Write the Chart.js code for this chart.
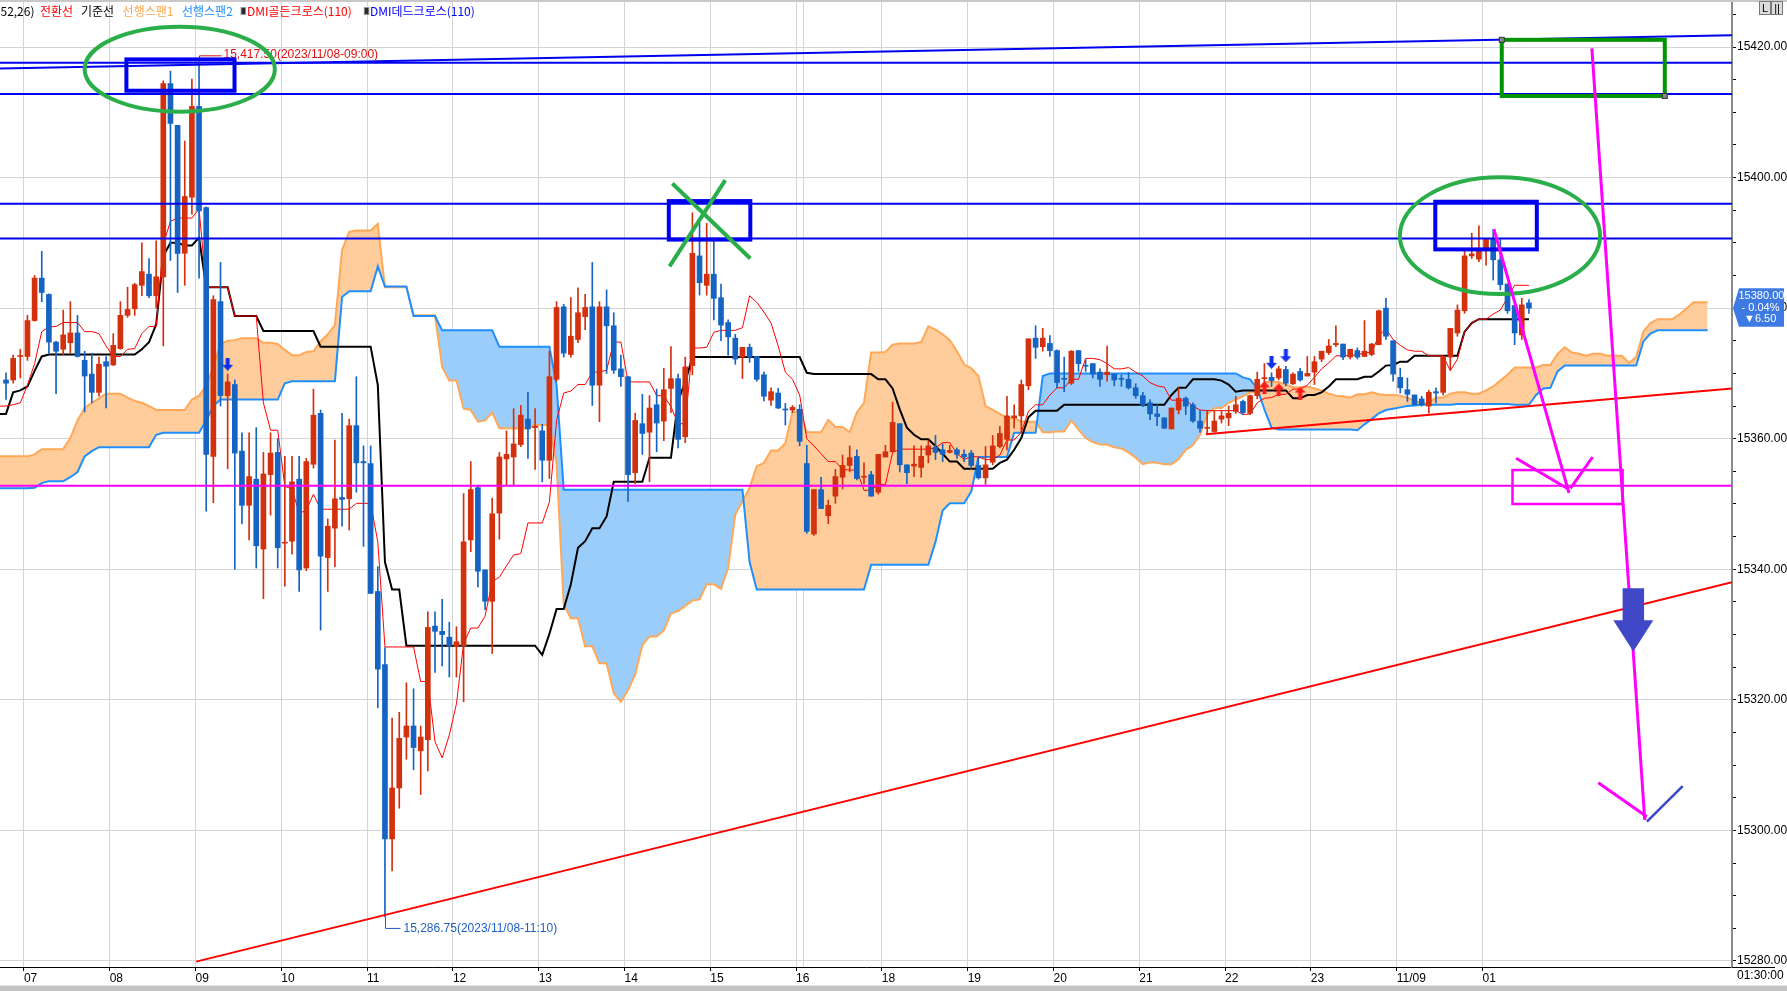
<!DOCTYPE html>
<html>
<head>
<meta charset="utf-8">
<title>5분봉 일목균형표</title>
<script src="https://cdn.jsdelivr.net/npm/chart.js@4.4.1/dist/chart.umd.min.js"></script>
<style>
  html, body { margin: 0; padding: 0; background: #fff; overflow: hidden; }
  #box { width: 1787px; height: 991px; }
</style>
</head>
<body>
<div id="box"><canvas id="chart" width="1787" height="991"></canvas></div>
<script>
// 5분봉, index 0 = 11/08 06:45 ... index 213 = 11/09 01:30
var opens = [
  15369.0,15369.0,15372.6,15372.6,15378.1,15384.6,15382.1,15374.8,15373.7,15374.7,
  15376.2,15372.0,15369.9,15367.1,15371.8,15371.3,15373.8,15378.9,15379.9,15383.5,
  15385.2,15381.9,15384.8,15414.4,15408.0,15388.4,15397.0,15410.9,15395.4,15357.3,
  15381.0,15366.6,15368.3,15358.1,15349.8,15353.8,15343.1,15354.5,15357.9,15344.0,
  15344.3,15353.8,15340.2,15356.1,15363.9,15341.8,15346.3,15351.0,15350.8,15362.0,
  15356.5,15356.2,15336.6,15325.4,15298.7,15306.5,15314.3,15316.0,15312.2,15313.9,
  15331.3,15330.5,15329.6,15328.2,15328.3,15344.5,15352.5,15339.9,15335.1,15348.6,
  15356.9,15357.2,15359.1,15363.0,15361.7,15361.2,15356.7,15369.1,15380.2,15372.9,
  15375.2,15378.7,15380.2,15368.2,15380.2,15377.3,15370.7,15369.5,15354.8,15362.3,
  15361.0,15365.2,15362.7,15367.7,15369.2,15360.3,15371.2,15388.0,15383.5,15385.2,
  15381.6,15377.8,15375.4,15372.5,15374.0,15372.6,15369.8,15365.9,15367.0,15364.5,
  15364.4,15364.5,15356.2,15345.4,15352.2,15348.2,15351.2,15354.1,15355.9,15357.3,
  15354.1,15354.5,15351.8,15357.2,15358.0,15362.3,15356.0,15355.8,15355.6,15357.5,
  15358.7,15358.3,15357.9,15358.3,15357.6,15357.8,15355.9,15354.0,15356.4,15358.8,
  15359.9,15363.2,15363.5,15368.1,15375.4,15374.1,15374.6,15373.5,15369.2,15368.5,
  15373.5,15371.2,15371.5,15370.2,15369.8,15369.9,15369.2,15369.1,15367.8,15366.6,
  15365.5,15363.8,15363.2,15361.5,15364.4,15366.2,15365.2,15362.7,15361.6,15361.1,
  15363.0,15363.2,15364.2,15365.7,15363.9,15366.6,15369.2,15369.4,15369.3,15370.6,
  15368.4,15370.3,15369.6,15370.2,15372.2,15373.2,15374.4,15374.5,15372.5,15373.5,
  15372.6,15372.9,15374.4,15380.0,15375.0,15369.4,15367.5,15366.7,15366.1,15365.0,
  15367.2,15367.1,15372.5,15376.2,15379.6,15388.0,15387.5,15388.9,15390.6,15387.4,
  15383.7,15380.4,15375.9,15380.8
];
var highs = [
  15370.1,15372.8,15373.7,15378.9,15385.0,15388.7,15382.2,15374.9,15379.7,15381.0,
  15378.9,15373.4,15373.1,15372.5,15372.6,15376.1,15381.0,15383.2,15383.8,15390.0,
  15387.6,15390.3,15414.8,15416.3,15408.0,15405.6,15415.1,15417.5,15395.5,15381.9,
  15387.0,15369.9,15369.0,15360.9,15360.9,15361.7,15357.9,15360.9,15360.0,15357.3,
  15357.3,15357.3,15357.0,15367.6,15364.4,15347.7,15359.8,15363.9,15363.0,15369.5,
  15358.9,15358.9,15340.4,15328.0,15317.2,15318.1,15322.6,15321.7,15316.0,15333.5,
  15333.5,15335.4,15331.9,15331.2,15351.6,15356.5,15352.9,15339.9,15350.9,15357.9,
  15361.2,15364.6,15365.1,15367.1,15364.6,15362.2,15373.4,15381.0,15380.6,15381.6,
  15383.1,15382.1,15387.0,15381.0,15382.8,15379.3,15372.8,15369.5,15363.9,15366.8,
  15366.6,15367.6,15370.8,15374.1,15369.9,15372.5,15394.6,15393.0,15393.0,15390.2,
  15383.7,15378.2,15376.0,15374.0,15374.5,15372.6,15370.2,15367.8,15367.7,15365.4,
  15365.1,15365.2,15359.0,15352.2,15354.1,15350.6,15355.3,15357.5,15358.9,15358.3,
  15356.3,15355.0,15357.6,15359.0,15365.6,15362.3,15356.0,15358.9,15358.9,15359.7,
  15360.5,15359.2,15359.0,15358.6,15358.3,15358.2,15357.0,15358.8,15360.5,15361.9,
  15366.5,15365.2,15369.0,15375.3,15377.3,15376.9,15375.8,15373.6,15372.5,15373.5,
  15373.5,15372.1,15371.5,15370.7,15374.2,15369.9,15369.8,15370.1,15368.4,15367.1,
  15366.0,15365.2,15363.2,15364.7,15367.8,15366.4,15365.5,15364.3,15364.3,15364.3,
  15364.3,15365.0,15366.5,15365.9,15366.7,15370.2,15371.5,15370.1,15371.1,15371.1,
  15370.1,15370.8,15372.6,15372.6,15373.4,15375.2,15377.3,15374.5,15373.7,15373.9,
  15378.1,15374.6,15379.7,15381.5,15375.0,15370.8,15369.3,15366.7,15366.5,15367.4,
  15367.8,15372.6,15376.9,15380.5,15388.9,15391.5,15392.6,15390.6,15392.0,15390.5,
  15383.7,15380.4,15381.5,15381.3
];
var lows = [
  15366.0,15368.5,15369.3,15372.0,15378.0,15381.0,15373.1,15366.9,15372.9,15373.1,
  15372.5,15364.1,15365.5,15366.5,15364.7,15371.2,15373.7,15378.6,15378.9,15381.9,
  15381.6,15380.0,15374.2,15387.3,15382.4,15383.5,15394.4,15384.6,15348.9,15350.2,
  15365.0,15355.4,15340.0,15347.0,15344.5,15340.2,15335.5,15348.3,15340.2,15337.4,
  15342.3,15336.6,15339.8,15355.5,15330.7,15336.6,15340.4,15346.6,15346.0,15351.8,
  15343.5,15336.3,15318.8,15286.75,15293.8,15303.4,15310.9,15309.3,15305.5,15309.1,
  15324.2,15325.2,15323.5,15323.5,15319.7,15342.7,15337.3,15333.8,15327.1,15344.6,
  15352.9,15352.9,15358.8,15357.0,15355.3,15353.4,15353.9,15368.8,15372.5,15372.5,
  15374.7,15376.7,15365.1,15362.6,15370.0,15370.0,15368.0,15350.4,15353.1,15357.6,
  15353.4,15358.0,15359.7,15364.0,15358.6,15359.4,15369.8,15382.0,15382.0,15378.2,
  15375.0,15372.8,15371.4,15369.2,15371.7,15368.8,15365.8,15365.1,15364.6,15362.1,
  15364.0,15358.9,15345.5,15345.2,15349.3,15347.0,15350.1,15352.3,15354.9,15353.7,
  15353.1,15351.2,15351.5,15357.2,15358.0,15354.9,15353.1,15354.2,15354.1,15356.3,
  15356.8,15356.5,15357.8,15357.0,15356.5,15355.4,15353.8,15353.0,15356.0,15358.6,
  15358.3,15361.6,15360.9,15367.5,15372.3,15373.4,15372.6,15367.8,15367.2,15368.3,
  15370.3,15370.3,15369.3,15368.0,15368.8,15368.1,15368.0,15367.6,15366.2,15364.9,
  15362.9,15362.0,15361.6,15361.5,15363.8,15363.7,15362.5,15361.0,15360.8,15361.0,
  15362.4,15362.0,15363.9,15363.7,15363.7,15366.1,15368.0,15368.0,15369.0,15368.1,
  15368.3,15368.8,15369.6,15368.3,15371.8,15372.9,15374.1,15372.1,15372.2,15372.2,
  15372.6,15372.7,15374.4,15375.2,15368.8,15367.0,15365.7,15365.2,15365.0,15363.9,
  15365.5,15366.7,15370.6,15375.7,15379.2,15387.6,15387.1,15386.6,15384.3,15382.8,
  15379.2,15374.4,15375.2,15379.2
];
var closes = [
  15368.5,15372.3,15372.7,15378.1,15384.6,15382.4,15374.8,15373.4,15375.9,15376.2,
  15372.6,15369.6,15367.1,15371.4,15371.1,15374.3,15378.9,15379.8,15383.6,15385.6,
  15381.9,15384.8,15414.4,15408.3,15388.4,15397.1,15410.9,15394.9,15357.6,15381.3,
  15366.6,15368.7,15357.8,15349.8,15354.2,15343.6,15354.6,15357.8,15343.3,15344.1,
  15353.4,15339.9,15356.5,15363.6,15342.0,15346.6,15350.8,15350.7,15362.0,15356.3,
  15356.3,15336.3,15324.7,15298.7,15306.5,15314.1,15316.0,15312.7,15314.3,15331.1,
  15330.5,15330.0,15328.3,15328.9,15344.2,15352.2,15339.7,15335.1,15348.5,15357.2,
  15357.6,15359.2,15363.6,15361.5,15361.9,15356.7,15369.5,15380.1,15373.1,15375.7,
  15379.3,15380.1,15368.2,15380.2,15377.3,15370.5,15369.5,15354.5,15362.8,15360.8,
  15364.7,15362.4,15367.5,15369.2,15359.9,15371.0,15388.4,15383.9,15385.2,15381.5,
  15377.4,15375.6,15372.2,15374.0,15372.5,15369.1,15366.5,15367.2,15364.7,15364.4,
  15364.8,15359.6,15345.8,15352.2,15349.3,15349.8,15354.2,15355.9,15357.1,15353.9,
  15354.2,15351.2,15357.6,15358.0,15362.5,15356.0,15354.8,15356.1,15357.3,15358.9,
  15357.9,15357.6,15358.2,15357.6,15357.2,15355.9,15354.0,15356.0,15358.9,15360.8,
  15363.5,15363.5,15368.3,15375.3,15374.0,15375.4,15373.5,15368.6,15369.1,15373.4,
  15371.5,15371.1,15369.9,15369.1,15370.2,15369.0,15369.1,15367.8,15366.6,15365.2,
  15363.8,15363.4,15361.6,15364.7,15366.2,15365.0,15362.7,15361.6,15361.7,15362.7,
  15363.5,15363.9,15365.2,15364.0,15366.6,15369.1,15369.3,15368.9,15370.7,15368.5,
  15369.9,15369.0,15370.0,15371.8,15373.4,15374.2,15374.6,15372.5,15373.7,15372.5,
  15373.4,15374.5,15379.6,15375.7,15369.9,15367.8,15366.8,15365.2,15365.2,15367.1,
  15367.0,15372.6,15376.9,15379.7,15388.0,15388.3,15388.9,15390.6,15387.4,15383.6,
  15379.6,15376.2,15380.5,15380.0
];

// 일목균형표 선 (index -1 부터)
var lineStart = -1;
var tenkan = [
  15365.0,15365.0,15365.2,15365.5,15368.2,15371.5,15376.4,15377.1,15377.2,15377.8,
  15377.8,15377.8,15376.4,15376.4,15376.1,15374.2,15372.6,15372.6,15373.7,15373.8,
  15376.1,15377.2,15377.2,15389.8,15393.3,15393.8,15393.8,15393.8,15395.2,15383.2,
  15383.2,15383.2,15383.2,15378.8,15378.8,15378.8,15378.8,15365.5,15361.3,15361.3,
  15352.7,15352.3,15348.6,15349.0,15351.5,15349.2,15349.2,15349.2,15349.2,15349.2,
  15350.1,15350.1,15350.1,15344.2,15328.1,15328.1,15328.1,15328.1,15328.1,15322.8,
  15322.8,15313.6,15311.1,15314.6,15319.4,15328.6,15331.0,15331.0,15332.8,15338.1,
  15338.8,15340.5,15342.2,15342.4,15347.1,15347.1,15347.1,15350.3,15362.8,15367.0,
  15367.3,15368.3,15368.3,15370.2,15370.2,15370.5,15374.8,15374.8,15368.7,15368.7,
  15368.7,15368.7,15366.6,15366.6,15364.9,15362.3,15362.3,15373.9,15373.9,15374.0,
  15376.3,15376.6,15376.6,15376.6,15377.0,15381.9,15380.9,15379.4,15377.7,15374.2,
  15370.2,15369.1,15366.7,15360.0,15358.9,15357.7,15356.5,15356.5,15355.3,15355.2,
  15355.2,15352.1,15352.1,15353.0,15353.0,15357.9,15358.4,15358.4,15358.4,15358.4,
  15358.4,15358.6,15359.4,15359.4,15357.7,15356.8,15357.3,15357.2,15356.8,15356.8,
  15357.5,15359.8,15359.8,15361.0,15364.2,15365.2,15365.2,15366.7,15367.8,15367.8,
  15369.1,15369.1,15372.3,15372.3,15372.1,15371.5,15370.7,15370.7,15370.9,15370.2,
  15369.6,15368.6,15368.1,15367.9,15365.9,15365.9,15365.9,15365.0,15364.4,15364.3,
  15364.3,15364.3,15364.3,15364.3,15363.7,15363.8,15365.5,15366.2,15366.3,15366.8,
  15366.8,15367.6,15367.6,15368.2,15369.4,15370.7,15371.6,15372.7,15372.7,15372.8,
  15372.8,15373.2,15373.2,15375.8,15376.8,15375.2,15374.3,15373.6,15373.4,15373.4,
  15372.7,15372.7,15372.7,15370.4,15372.2,15376.4,15377.7,15378.3,15378.3,15379.1,
  15379.7,15381.6,15383.5,15383.5,15383.5
];
var kijun = [
  15363.8,15363.8,15367.1,15367.4,15368.0,15370.4,15372.6,15372.9,15372.9,15372.9,
  15372.9,15372.9,15372.9,15372.9,15372.9,15372.9,15372.9,15372.9,15372.9,15372.9,
  15373.7,15374.8,15377.5,15388.0,15390.0,15390.0,15389.6,15389.6,15390.8,15383.2,
  15383.2,15383.2,15383.2,15378.8,15378.8,15378.8,15378.8,15376.5,15376.5,15376.5,
  15376.5,15376.5,15376.5,15376.5,15376.5,15374.1,15374.1,15374.1,15374.1,15374.1,
  15374.1,15374.1,15374.1,15368.2,15341.1,15336.9,15336.9,15328.3,15328.3,15328.3,
  15328.3,15328.3,15328.3,15328.3,15328.3,15328.3,15328.3,15328.3,15328.3,15328.3,
  15328.3,15328.3,15328.3,15328.3,15328.3,15328.3,15326.9,15330.1,15333.9,15333.9,
  15337.7,15343.3,15344.3,15346.3,15346.3,15348.1,15353.4,15353.4,15353.4,15353.4,
  15353.4,15357.1,15357.1,15357.1,15357.1,15365.8,15368.7,15372.5,15372.5,15372.5,
  15372.5,15372.5,15372.5,15372.5,15372.5,15372.5,15372.5,15372.5,15372.5,15372.5,
  15372.5,15372.5,15372.5,15370.1,15369.9,15369.9,15369.9,15369.9,15369.9,15369.9,
  15369.9,15369.9,15369.9,15369.1,15369.1,15367.7,15364.5,15361.7,15360.6,15359.9,
  15359.9,15358.9,15357.7,15356.5,15356.5,15355.4,15355.4,15355.4,15355.4,15355.4,
  15356.3,15356.8,15358.3,15360.1,15363.3,15364.3,15364.3,15364.3,15364.3,15365.2,
  15365.2,15365.2,15365.2,15365.2,15365.2,15365.2,15365.2,15365.2,15365.2,15365.2,
  15365.2,15365.2,15365.2,15365.2,15366.7,15367.8,15367.8,15369.1,15369.1,15369.1,
  15369.1,15368.9,15368.3,15367.2,15367.4,15367.4,15367.4,15367.4,15367.4,15367.4,
  15367.4,15366.2,15366.2,15366.7,15366.7,15367.1,15368.0,15369.1,15369.1,15369.1,
  15369.1,15369.5,15369.5,15370.3,15371.2,15371.3,15371.8,15371.8,15372.7,15372.7,
  15372.7,15372.7,15372.7,15372.7,15372.7,15376.4,15377.7,15378.3,15378.3,15378.3,
  15378.3,15378.3,15378.3,15378.3,15378.3
];
// 선행스팬 (index -1 ~ 238, 26봉 선행)
var span1 = [
  15357.3,15357.3,15357.3,15357.3,15357.3,15357.6,15358.4,15358.4,15358.4,15358.4,
  15360.1,15362.8,15364.7,15365.5,15366.2,15366.9,15366.9,15366.9,15366.3,15365.8,
  15365.5,15365.0,15364.4,15364.4,15364.4,15364.4,15364.4,15366.0,15366.6,15368.1,
  15371.0,15374.5,15375.0,15375.1,15375.4,15375.4,15375.4,15374.7,15374.7,15374.5,
  15373.6,15372.8,15372.8,15373.3,15373.4,15374.9,15376.0,15377.4,15388.9,15391.7,
  15391.9,15391.9,15391.9,15392.9,15383.2,15383.2,15383.2,15383.2,15378.9,15378.9,
  15378.9,15378.9,15371.0,15368.9,15368.9,15364.6,15364.4,15362.6,15362.8,15364.0,
  15361.6,15361.6,15361.6,15361.6,15361.6,15362.1,15362.1,15362.1,15356.2,15334.6,
  15332.5,15332.5,15328.2,15328.2,15325.6,15325.6,15321.0,15319.7,15321.5,15323.9,
  15328.4,15329.7,15329.7,15330.6,15333.2,15333.6,15334.4,15335.2,15335.4,15337.7,
  15337.7,15337.0,15340.2,15348.4,15350.4,15352.5,15355.8,15356.3,15358.2,15358.2,
  15359.3,15364.1,15364.1,15361.0,15361.0,15361.0,15362.9,15361.8,15361.8,15361.0,
  15364.0,15365.5,15373.2,15373.2,15373.3,15374.4,15374.6,15374.6,15374.6,15374.8,
  15377.2,15376.7,15376.0,15375.1,15373.4,15371.4,15370.8,15369.6,15365.0,15364.4,
  15363.8,15363.2,15363.2,15362.6,15362.6,15362.6,15361.0,15361.0,15361.1,15361.1,
  15362.8,15361.4,15360.1,15359.5,15359.1,15359.1,15358.7,15358.5,15357.9,15357.1,
  15356.1,15356.4,15356.3,15356.1,15356.1,15356.9,15358.3,15359.0,15360.6,15363.7,
  15364.7,15364.7,15365.5,15366.0,15366.5,15367.1,15367.1,15368.7,15368.7,15368.7,
  15368.3,15367.9,15367.9,15368.0,15367.7,15367.4,15366.9,15366.6,15366.5,15366.3,
  15366.8,15366.8,15367.1,15366.8,15366.7,15366.7,15366.6,15366.3,15365.8,15365.4,
  15365.5,15366.3,15366.3,15366.9,15367.1,15367.1,15366.9,15366.9,15367.4,15368.0,
  15368.9,15369.8,15370.9,15370.9,15370.9,15370.9,15371.3,15371.3,15373.0,15374.0,
  15373.2,15373.0,15372.7,15373.0,15373.0,15372.7,15372.7,15372.7,15371.6,15372.5,
  15376.4,15377.7,15378.3,15378.3,15378.3,15379.0,15379.9,15380.9,15380.9,15380.9
];
var span2 = [
  15352.4,15352.4,15352.4,15352.4,15352.4,15352.5,15353.2,15353.5,15353.5,15353.5,
  15354.1,15354.9,15357.3,15358.1,15358.7,15358.7,15358.7,15358.7,15358.7,15358.7,
  15358.7,15358.7,15360.6,15360.9,15360.9,15360.9,15360.9,15360.9,15360.9,15362.8,
  15365.0,15366.0,15366.0,15366.0,15366.0,15366.0,15366.0,15366.0,15366.0,15366.0,
  15368.5,15368.8,15368.8,15368.8,15368.8,15368.8,15368.8,15368.8,15381.7,15382.6,
  15382.6,15382.6,15382.6,15386.4,15383.3,15383.3,15383.3,15383.3,15378.8,15378.8,
  15378.8,15378.8,15376.6,15376.6,15376.6,15376.6,15376.6,15376.6,15376.6,15376.6,
  15374.1,15374.1,15374.1,15374.1,15374.1,15374.1,15374.1,15374.1,15368.2,15352.2,
  15352.2,15352.2,15352.2,15352.2,15352.2,15352.2,15352.2,15352.2,15352.2,15352.2,
  15352.2,15352.2,15352.2,15352.2,15352.2,15352.2,15352.2,15352.2,15352.2,15352.2,
  15352.2,15352.2,15352.2,15352.2,15352.2,15341.1,15336.9,15336.9,15336.9,15336.9,
  15336.9,15336.9,15336.9,15336.9,15336.9,15336.9,15336.9,15336.9,15336.9,15336.9,
  15336.9,15336.9,15340.7,15340.7,15340.7,15340.7,15340.7,15340.7,15340.7,15340.7,
  15340.7,15344.2,15349.0,15350.1,15350.1,15350.1,15351.9,15357.2,15357.2,15357.2,
  15357.2,15357.2,15360.9,15360.9,15360.9,15360.9,15369.6,15370.0,15370.0,15370.0,
  15370.0,15370.0,15370.0,15370.0,15370.0,15370.0,15370.0,15370.0,15370.0,15370.0,
  15370.0,15370.0,15370.0,15370.0,15370.0,15370.0,15370.0,15370.0,15370.0,15370.0,
  15370.0,15370.0,15370.0,15370.0,15369.4,15369.1,15367.7,15364.5,15361.7,15361.4,
  15361.4,15361.4,15361.4,15361.4,15361.4,15361.4,15361.4,15361.4,15361.4,15361.4,
  15361.3,15362.2,15363.0,15363.9,15364.4,15364.6,15364.8,15365.0,15365.1,15365.2,
  15365.2,15365.2,15365.2,15365.2,15365.3,15365.3,15365.3,15365.3,15365.3,15365.3,
  15365.3,15365.3,15365.2,15365.2,15365.2,15366.7,15367.7,15367.8,15370.3,15371.2,
  15371.2,15371.2,15371.2,15371.2,15371.2,15371.2,15371.2,15371.2,15371.2,15371.2,
  15374.9,15376.1,15376.6,15376.6,15376.6,15376.6,15376.6,15376.6,15376.6,15376.6
];

// x축: 각 시각의 첫 봉 index
var hourTicks = [3, 15, 27, 39, 51, 63, 75, 87, 99, 111, 123, 135, 147, 159, 171, 183, 195, 207];
var hourLabels = ['07', '08', '09', '10', '11', '12', '13', '14', '15', '16', '18', '19', '20', '21', '22', '23', '11/09', '01'];
var sessionLines = [111.5];

// DMI 신호
var goldenIdx = [176, 178, 181];
var goldenVal = [15367.8, 15367.5, 15367.0];
var deadIdx = [31, 177, 179];
var deadVal = [15371.4, 15371.7, 15372.7];

// 그려 넣은 선들 (봉 index, 가격)
var blueLevels = [15417.6, 15412.8, 15396.0, 15390.65];
var blueSlope = [[-0.84, 15416.7], [241.4, 15421.8]];
var magentaLevel = 15352.8;
var redTrends = [[[26.6, 15279.9], [241.4, 15338.0]], [[167.8, 15360.7], [241.4, 15367.7]]];
var blueBoxes = [[16.84, 15418.1, 31.96, 15413.3], [92.7, 15396.4, 104.1, 15390.5], [199.9, 15396.3, 214.1, 15389.0]];
var greenBox = [209.2, 15421.1, 232.0, 15412.5];
var magentaBox = [210.7, 15355.2, 226.1, 15350.0];
var greenEllipses = [[24.3, 15416.6, 13.3, 6.5], [208.95, 15391.1, 14.0, 8.95]];
var greenCross = [[[92.8, 15386.4], [100.6, 15399.6]], [[93.2, 15399.1], [104.1, 15387.6]]];
var magentaPaths = [
  [[208.1, 15392.1], [218.6, 15351.7]],
  [[211.2, 15357.0], [218.5, 15352.3]],
  [[221.9, 15357.2], [218.8, 15352.4]],
  [[221.8, 15419.8], [229.2, 15301.6]],
  [[222.7, 15307.3], [229.5, 15302.1]]
];
var blueTick = [[229.5, 15301.35], [234.5, 15306.8]];
var bigArrow = [[226.1, 15337.1], [229.1, 15337.1], [229.1, 15332.2], [230.4, 15332.2], [227.6, 15327.4], [224.8, 15332.2], [226.1, 15332.2]];

var prevClose = 15386.5;
var baseDate = '2023/11/08';
var highTime = '09:00';
var lowTime = '11:10';

var upColor = '#d3300e';
var downColor = '#1563c2';

Chart.defaults.font.family = '"Liberation Sans", Arial, sans-serif';

function fmt(v) {
  return v.toLocaleString('en-US', { minimumFractionDigits: 2, maximumFractionDigits: 2 });
}

function lineData(arr) {
  return arr.map(function (v, k) { return { x: k + lineStart, y: v }; });
}

function arrowImage(color, down) {
  var c = document.createElement('canvas');
  c.width = 11; c.height = 13;
  var g = c.getContext('2d');
  g.fillStyle = color;
  if (down) { g.translate(0, 13); g.scale(1, -1); }
  g.beginPath();
  g.moveTo(5.5, 0); g.lineTo(11, 6); g.lineTo(7.5, 6); g.lineTo(7.5, 13);
  g.lineTo(3.5, 13); g.lineTo(3.5, 6); g.lineTo(0, 6);
  g.closePath(); g.fill();
  return c;
}

var candleColors = closes.map(function (c, i) { return c >= opens[i] ? upColor : downColor; });
var bodyData = opens.map(function (o, i) { return { x: i, y: [o, closes[i]] }; });
var wickData = highs.map(function (h, i) { return { x: i, y: [lows[i], h] }; });

var gridExtras = {
  id: 'gridExtras',
  beforeDatasetsDraw: function (chart) {
    var ctx = chart.ctx, a = chart.chartArea, xs = chart.scales.x;
    ctx.save();
    ctx.strokeStyle = '#d4d4d4';
    ctx.lineWidth = 1;
    sessionLines.forEach(function (v) {
      var x = Math.round(xs.getPixelForValue(v)) + 0.5;
      ctx.beginPath(); ctx.moveTo(x, a.top); ctx.lineTo(x, a.bottom); ctx.stroke();
    });
    ctx.restore();
  }
};

var drawings = {
  id: 'drawings',
  afterDatasetsDraw: function (chart) {
    var ctx = chart.ctx, a = chart.chartArea;
    var xs = chart.scales.x, ys = chart.scales.y;
    function X(v) { return xs.getPixelForValue(v); }
    function Y(v) { return ys.getPixelForValue(v); }
    function seg(p, q, color, w) {
      ctx.beginPath(); ctx.moveTo(X(p[0]), Y(p[1])); ctx.lineTo(X(q[0]), Y(q[1]));
      ctx.strokeStyle = color; ctx.lineWidth = w; ctx.stroke();
    }
    function level(v, color, w) {
      ctx.beginPath(); ctx.moveTo(a.left, Y(v)); ctx.lineTo(a.right, Y(v));
      ctx.strokeStyle = color; ctx.lineWidth = w; ctx.stroke();
    }
    function box(b, color, w) {
      var x0 = X(b[0]), y0 = Y(b[1]);
      ctx.strokeStyle = color; ctx.lineWidth = w;
      ctx.strokeRect(x0, y0, X(b[2]) - x0, Y(b[3]) - y0);
    }

    ctx.save();
    ctx.beginPath();
    ctx.rect(a.left, a.top, a.right - a.left, a.bottom - a.top);
    ctx.clip();

    redTrends.forEach(function (t) { seg(t[0], t[1], '#ff0000', 2); });
    blueLevels.forEach(function (v) { level(v, '#0000f0', 2); });
    seg(blueSlope[0], blueSlope[1], '#0000f0', 2);
    level(magentaLevel, '#ff00ff', 2);

    // 최고/최저 표시
    var hi = highs.indexOf(Math.max.apply(null, highs));
    var lo = lows.indexOf(Math.min.apply(null, lows));
    ctx.font = '12px "Liberation Sans", Arial, sans-serif';
    ctx.textBaseline = 'middle';
    ctx.textAlign = 'left';
    var hx = Math.round(X(hi)) + 0.5, hy = Y(highs[hi]);
    ctx.strokeStyle = '#e01010'; ctx.lineWidth = 1;
    ctx.beginPath(); ctx.moveTo(hx, hy); ctx.lineTo(hx, hy - 7.5); ctx.lineTo(hx + 22, hy - 7.5); ctx.stroke();
    ctx.fillStyle = '#e01010';
    ctx.fillText(fmt(highs[hi]) + '(' + baseDate + '-' + highTime + ')', hx + 24, hy - 8.5);
    var lx = Math.round(X(lo)) + 0.5, ly = Y(lows[lo]);
    ctx.strokeStyle = '#1f5fc4';
    ctx.beginPath(); ctx.moveTo(lx, ly); ctx.lineTo(lx, ly + 11.5); ctx.lineTo(lx + 15, ly + 11.5); ctx.stroke();
    ctx.fillStyle = '#1f5fc4';
    ctx.fillText(fmt(lows[lo]) + '(' + baseDate + '-' + lowTime + ')', lx + 18, ly + 11.5);

    blueBoxes.forEach(function (b) { box(b, '#0000f0', 4); });
    box(greenBox, '#009400', 4);
    box(magentaBox, '#ff00ff', 2.5);

    ctx.lineWidth = 4;
    ctx.strokeStyle = '#2aae4a';
    greenEllipses.forEach(function (e) {
      var cx = X(e[0]), cy = Y(e[1]);
      ctx.beginPath();
      ctx.ellipse(cx, cy, X(e[0] + e[2]) - cx, cy - Y(e[1] + e[3]), 0, 0, Math.PI * 2);
      ctx.stroke();
    });
    greenCross.forEach(function (l) { seg(l[0], l[1], '#2aae4a', 4); });

    // 초록 박스 핸들
    [[greenBox[0], greenBox[1]], [greenBox[2], greenBox[3]]].forEach(function (p) {
      ctx.fillStyle = '#8a8a8a';
      ctx.fillRect(X(p[0]) - 2.5, Y(p[1]) - 2.5, 5, 5);
      ctx.strokeStyle = '#333'; ctx.lineWidth = 1;
      ctx.strokeRect(X(p[0]) - 2.5, Y(p[1]) - 2.5, 5, 5);
    });

    magentaPaths.forEach(function (l) { seg(l[0], l[1], '#ff00ff', 3); });
    seg(blueTick[0], blueTick[1], '#3c46c8', 2.5);

    ctx.fillStyle = '#4048c8';
    ctx.beginPath();
    bigArrow.forEach(function (p, k) {
      if (k === 0) ctx.moveTo(X(p[0]), Y(p[1])); else ctx.lineTo(X(p[0]), Y(p[1]));
    });
    ctx.closePath();
    ctx.fill();

    ctx.restore();
  }
};

var frame = {
  id: 'frame',
  afterDraw: function (chart) {
    var ctx = chart.ctx, ys = chart.scales.y, a = chart.chartArea;
    ctx.save();

    // 상단 범례
    ctx.font = '12px "Noto Sans CJK KR", sans-serif';
    ctx.textBaseline = 'middle';
    var items = [
      { t: '일목균형표(9,26,52,26)', x: 34.5, c: '#000000', al: 'right' },
      { t: '전환선', x: 40, c: '#ff0000' },
      { t: '기준선', x: 81, c: '#000000' },
      { t: '선행스팬1', x: 122.6, c: '#ffa64d' },
      { t: '선행스팬2', x: 182, c: '#1e8fff' },
      { t: 'DMI골든크로스(110)', x: 247, c: '#ff0000' },
      { t: 'DMI데드크로스(110)', x: 370, c: '#0000ff' }
    ];
    items.forEach(function (it) {
      ctx.textAlign = it.al || 'left';
      ctx.fillStyle = it.c;
      ctx.fillText(it.t, it.x, 11);
    });
    [240.6, 363.8].forEach(function (x) {
      ctx.fillStyle = '#9a9a9a'; ctx.fillRect(x, 7, 5.5, 8);
      ctx.fillStyle = '#2a2a2a'; ctx.fillRect(x + 1, 8, 3.5, 6);
    });

    // 상단/하단 테두리
    ctx.fillStyle = '#c8c8c8';
    ctx.fillRect(0, 0, 1787, 2);
    ctx.fillStyle = '#c4c4c4';
    ctx.fillRect(0, 985, 1787, 6);
    ctx.fillStyle = '#e6e6e6';
    ctx.fillRect(0, 985, 1787, 1);
    ctx.strokeStyle = '#000'; ctx.lineWidth = 1;
    ctx.beginPath(); ctx.moveTo(a.right, a.bottom + 0.5); ctx.lineTo(1775, a.bottom + 0.5); ctx.stroke();

    // 우상단 버튼
    [[1759, 'L'], [1771, '||']].forEach(function (b) {
      ctx.fillStyle = '#dcdcdc'; ctx.fillRect(b[0], 1, 12, 14);
      ctx.strokeStyle = '#7a7a7a'; ctx.strokeRect(b[0] + 0.5, 1.5, 11, 13);
      ctx.fillStyle = '#000'; ctx.font = '11px "Liberation Sans", sans-serif';
      ctx.textAlign = 'center'; ctx.fillText(b[1], b[0] + 6, 8.5);
    });

    // 현재 시각
    ctx.font = '12px "Liberation Sans", sans-serif';
    ctx.textAlign = 'left';
    ctx.fillStyle = '#000';
    ctx.fillText('01:30:00', 1737, 976);

    // 현재가 배지
    var last = closes[closes.length - 1];
    var yb = ys.getPixelForValue(last);
    ctx.fillStyle = '#3d7ae4';
    ctx.beginPath();
    ctx.moveTo(1733, yb); ctx.lineTo(1739, yb - 20); ctx.lineTo(1784, yb - 20);
    ctx.lineTo(1784, yb + 18.5); ctx.lineTo(1739, yb + 18.5); ctx.closePath();
    ctx.fill();
    var chg = last - prevClose;
    ctx.fillStyle = '#ffffff';
    ctx.font = '11px "Liberation Sans", sans-serif';
    ctx.fillText(last.toFixed(2), 1738.5, yb - 12.5);
    ctx.fillText('- ' + Math.abs(chg / prevClose * 100).toFixed(2) + '%', 1741.5, yb - 0.5);
    ctx.fillText('\u25BC' + Math.abs(chg).toFixed(2), 1744, yb + 11);
    ctx.restore();
  }
};

var ctx = document.getElementById('chart');
var myChart = new Chart(ctx, {
  type: 'bar',
  data: {
    datasets: [
      { type: 'bar', label: 'body', data: bodyData, backgroundColor: candleColors, barThickness: 5, minBarLength: 1, grouped: false, borderWidth: 0, order: 0 },
      { type: 'bar', label: 'wick', data: wickData, backgroundColor: candleColors, barThickness: 1, grouped: false, borderWidth: 0, order: 1 },
      { type: 'line', label: '전환선', data: lineData(tenkan), borderColor: '#ff0000', borderWidth: 1, pointRadius: 0, order: 2 },
      { type: 'line', label: '기준선', data: lineData(kijun), borderColor: '#000000', borderWidth: 2, pointRadius: 0, order: 2 },
      { type: 'line', label: '선행스팬2', data: lineData(span2), borderColor: '#1f8fff', borderWidth: 2, pointRadius: 0, order: 3 },
      { type: 'line', label: '선행스팬1', data: lineData(span1), borderColor: '#ffa857', borderWidth: 2, pointRadius: 0, order: 4,
        fill: { target: 4, above: '#ffcd9b', below: '#9bcdfa' } },
      { type: 'line', label: 'DMI골든크로스', data: goldenIdx.map(function (x, k) { return { x: x, y: goldenVal[k] }; }),
        showLine: false, pointStyle: arrowImage('#ff1a1a', false), order: -1 },
      { type: 'line', label: 'DMI데드크로스', data: deadIdx.map(function (x, k) { return { x: x, y: deadVal[k] }; }),
        showLine: false, pointStyle: arrowImage('#1030e8', true), order: -1 }
    ]
  },
  options: {
    responsive: false,
    devicePixelRatio: 1,
    animation: false,
    events: [],
    layout: { padding: 0, autoPadding: false },
    plugins: { legend: { display: false }, tooltip: { enabled: false } },
    scales: {
      x: {
        type: 'linear',
        min: -0.84,
        max: 241.4,
        offset: false,
        grid: { color: '#d4d4d4', offset: false, tickLength: 4, tickColor: '#000000' },
        border: { color: '#000000', width: 1 },
        afterBuildTicks: function (s) {
          s.ticks = hourTicks.map(function (v) { return { value: v - 0.5 }; });
        },
        ticks: {
          autoSkip: false, maxRotation: 0, align: 'start', padding: 0, color: '#000000',
          font: { size: 12 },
          callback: function (v) {
            var k = hourTicks.indexOf(v + 0.5);
            return k >= 0 ? hourLabels[k] : '';
          }
        },
        afterFit: function (s) { s.height = 24; s.paddingLeft = 0; s.paddingRight = 0; }
      },
      y: {
        type: 'linear',
        position: 'right',
        min: 15279.08,
        max: 15427.2,
        grid: {
          color: function (c) { return c.tick && c.tick.value % 20 === 0 ? '#d4d4d4' : 'rgba(0,0,0,0)'; },
          tickLength: 4, tickColor: '#000000'
        },
        border: { color: '#8a8a8a', width: 2 },
        afterBuildTicks: function (s) {
          var t = [];
          for (var v = 15280; v <= 15425; v += 5) t.push({ value: v });
          s.ticks = t;
        },
        ticks: {
          padding: 1, color: '#000000', font: { size: 12 },
          callback: function (v) { return v % 20 === 0 ? v.toFixed(2) : ''; }
        },
        afterFit: function (s) { s.width = 55; s.paddingTop = 0; s.paddingBottom = 0; }
      }
    }
  },
  plugins: [gridExtras, drawings, frame]
});
</script>
</body>
</html>
